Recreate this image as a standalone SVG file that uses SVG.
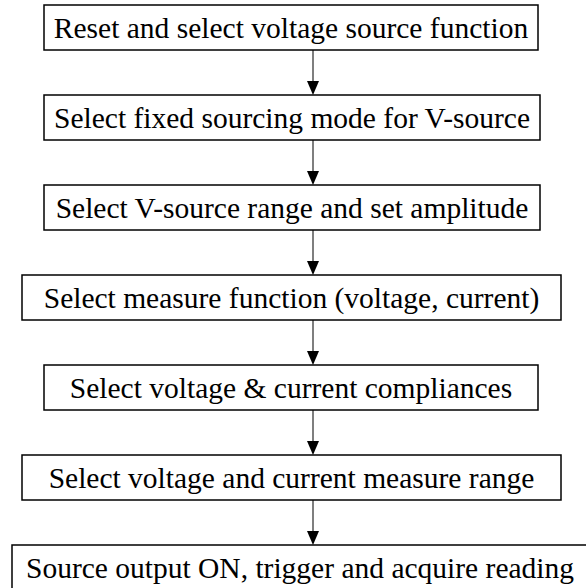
<svg xmlns="http://www.w3.org/2000/svg" width="586" height="588" viewBox="0 0 586 588">
  <style>
    .box { fill: #ffffff; stroke: #000000; stroke-width: 1.5; }
    .label { font-family: 'Liberation Serif', 'Times New Roman', Times, 'DejaVu Serif', serif; font-size: 29.5px; fill: #000000; text-anchor: middle; }
    .link { stroke: #555555; stroke-width: 1.5; fill: none; }
    .head { fill: #000000; }
  </style>
  <rect width="586" height="588" fill="#ffffff"/>

  <!-- vertical links between consecutive steps -->
  <g id="connectors">
    <line class="link" x1="313" y1="50" x2="313" y2="84"/>
    <line class="link" x1="313" y1="140" x2="313" y2="174"/>
    <line class="link" x1="313" y1="230" x2="313" y2="264"/>
    <line class="link" x1="313" y1="320" x2="313" y2="354"/>
    <line class="link" x1="313" y1="410" x2="313" y2="444"/>
    <line class="link" x1="313" y1="500" x2="313" y2="534"/>
    <path class="head" d="M307,81 L319,81 L313,95 Z"/>
    <path class="head" d="M307,171 L319,171 L313,185 Z"/>
    <path class="head" d="M307,261 L319,261 L313,275 Z"/>
    <path class="head" d="M307,351 L319,351 L313,365 Z"/>
    <path class="head" d="M307,441 L319,441 L313,455 Z"/>
    <path class="head" d="M307,531 L319,531 L313,545 Z"/>
  </g>

  <g id="step1">
    <rect class="box" x="44" y="5" width="494" height="45"/>
    <text class="label" x="291" y="38">Reset and select voltage source function</text>
  </g>
  <g id="step2">
    <rect class="box" x="44" y="95" width="496" height="45"/>
    <text class="label" x="292" y="128">Select fixed sourcing mode for V-source</text>
  </g>
  <g id="step3">
    <rect class="box" x="44" y="185" width="496" height="45"/>
    <text class="label" x="292" y="218">Select V-source range and set amplitude</text>
  </g>
  <g id="step4">
    <rect class="box" x="22" y="275" width="539" height="45"/>
    <text class="label" x="291.5" y="308">Select measure function (voltage, current)</text>
  </g>
  <g id="step5">
    <rect class="box" x="44" y="365" width="494" height="45"/>
    <text class="label" x="291" y="398">Select voltage &amp; current compliances</text>
  </g>
  <g id="step6">
    <rect class="box" x="22" y="455" width="539" height="45"/>
    <text class="label" x="291.5" y="488">Select voltage and current measure range</text>
  </g>
  <g id="step7">
    <rect class="box" x="12" y="545" width="580" height="46"/>
    <text class="label" x="300" y="578">Source output ON, trigger and acquire reading</text>
  </g>
</svg>
